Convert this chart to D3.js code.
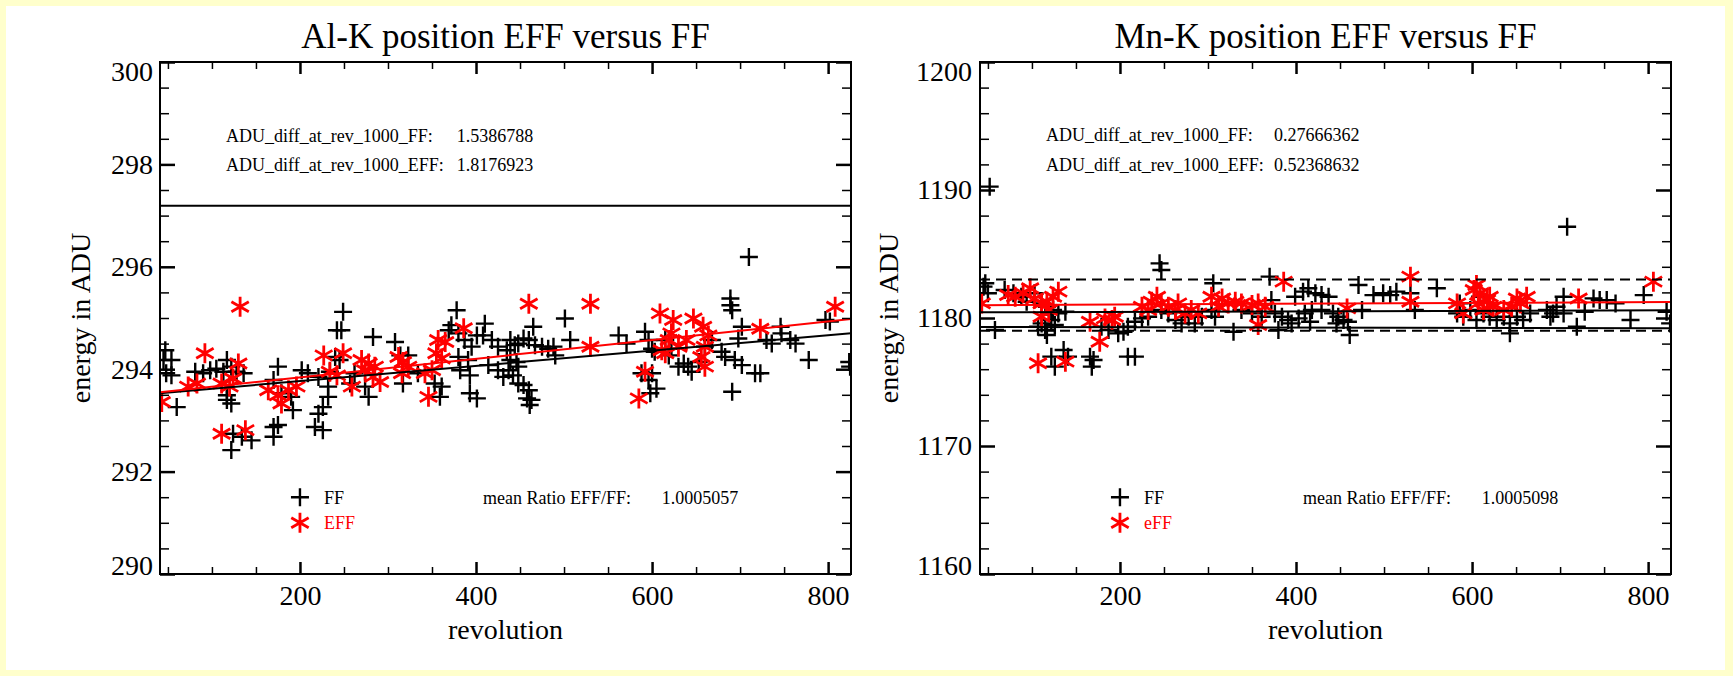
<!DOCTYPE html>
<html>
<head>
<meta charset="utf-8">
<script src="https://cdn.jsdelivr.net/npm/d3@7"></script>
<style>
  html, body { margin: 0; padding: 0; background: #ffffcc; }
  svg { display: block; }
  text { font-family: 'Liberation Serif', 'Times New Roman', serif; }
</style>
</head>
<body>
<svg id="chart" width="1733" height="676" font-family="'Liberation Serif', 'Times New Roman', serif"></svg>
<script>
// ---- data (revolution, energy in ADU) ----
const revDomain = [41, 826]
const revTicks = [200, 400, 600, 800]

const alYTicks = [290, 292, 294, 296, 298, 300]
const mnYTicks = [1160, 1170, 1180, 1190, 1200]

const alFF = [
  [45,294.18],[54,294.18],[48,293.92],[54,293.88],[47,294.37],[60,293.26],[81,293.95],[90,293.92],[98,293.98],[105,294.01],
  [113,293.95],[122,294.05],[128,293.95],[136,293.92],[117,294.18],[117,293.49],[117,293.40],[122,293.33],[124,292.74],[122,292.42],
  [134,292.68],[145,292.61],[170,292.87],[170,292.68],[175,292.91],[217,292.87],[226,292.81],[175,294.05],[170,293.79],[179,293.53],
  [190,293.46],[192,293.20],[202,293.98],[209,293.92],[221,293.85],[232,293.66],[232,293.46],[226,293.26],[221,293.13],[249,295.12],
  [242,294.76],[247,294.76],[283,294.63],[240,294.24],[245,294.18],[234,293.95],[262,293.92],[274,293.66],[278,293.46],[257,293.72],
  [308,294.53],[314,294.27],[323,294.27],[317,293.72],[334,293.92],[353,293.72],[361,293.66],[359,293.46],[378,295.15],[372,294.86],
  [369,294.76],[380,294.70],[387,294.57],[395,294.44],[401,294.66],[408,294.66],[410,294.89],[418,294.57],[425,294.44],[380,294.24],
  [391,294.18],[382,293.98],[393,293.88],[414,294.08],[425,293.98],[431,293.85],[393,293.53],[401,293.43],[435,294.37],
  [710,296.19],[501,294.99],[507,294.57],[465,294.83],[439,294.57],[444,294.47],[448,294.50],[454,294.60],[460,294.57],[467,294.47],
  [475,294.44],[488,294.44],[490,294.27],[482,294.40],[439,294.18],[446,294.14],[448,294.05],[437,293.98],[442,293.88],[448,293.72],
  [454,293.69],[460,293.59],[458,293.43],[463,293.40],[461,293.30],[689,295.38],[689,295.25],[691,295.15],[562,294.66],[571,294.50],
  [592,294.73],[596,294.57],[600,294.40],[603,294.34],[615,294.57],[622,294.40],[619,294.27],[588,293.92],[600,293.92],[596,293.79],
  [605,293.62],[598,293.53],[630,294.05],[636,294.11],[641,294.05],[645,293.95],[653,294.14],[660,294.44],[668,294.57],[679,294.34],
  [683,294.24],[698,294.60],[702,294.83],[694,294.18],[702,294.08],[717,293.92],[723,293.92],[691,293.56],[730,294.57],[736,294.50],
  [746,294.83],[747,294.70],[757,294.57],[763,294.50],[778,294.18],[797,294.96],[802,294.93],[824,294.14],[825,294.05]
]
const alEFF = [
  [43,293.36],[73,293.66],[83,293.72],[92,294.31],[132,295.22],[130,294.11],[111,293.72],[120,293.66],[124,293.82],[111,292.74],
  [138,292.81],[164,293.59],[175,293.49],[179,293.33],[187,293.59],[196,293.66],[227,294.27],[249,294.31],[234,293.95],[242,293.88],
  [259,293.66],[270,294.18],[278,294.11],[274,293.98],[283,293.85],[291,293.75],[285,294.05],[312,294.24],[317,294.14],[323,294.05],
  [316,293.92],[342,293.92],[350,293.98],[346,293.46],[357,294.57],[365,294.53],[355,294.31],[361,294.21],[386,294.80],
  [460,295.28],[530,295.28],[530,294.44],[609,295.09],[624,294.96],[647,294.99],[658,294.83],[664,294.66],[619,294.57],[630,294.44],
  [615,294.31],[660,294.44],[656,294.24],[660,294.05],[592,293.95],[585,293.43],[723,294.79],[808,295.22],[622,294.70],[611,294.37],
  [639,294.57]
]
const alFitFF = [293.53, 294.70]
const alFitEFF = [293.55, 294.98]
const alRefLine = [297.19]

const mnFF = [
  [52,1190.26],[45,1182.45],[50,1181.93],[47,1182.71],[58,1179.06],[69,1182.19],[79,1181.93],[88,1181.66],[94,1181.27],[103,1181.93],
  [111,1181.14],[117,1180.88],[124,1180.62],[130,1180.36],[138,1180.49],[107,1179.32],[115,1179.06],[111,1179.58],[122,1179.84],[126,1179.45],
  [117,1178.67],[122,1176.98],[126,1176.20],[136,1177.50],[141,1176.98],[166,1176.98],[170,1176.72],[168,1176.20],[209,1176.98],[217,1176.98],
  [179,1179.32],[187,1179.06],[198,1178.80],[204,1178.93],[209,1179.32],[217,1179.71],[225,1179.97],[232,1180.10],[245,1184.27],[247,1183.75],
  [247,1180.62],[255,1180.36],[263,1179.84],[270,1179.58],[278,1180.10],[285,1179.58],[293,1180.10],[306,1182.71],[308,1180.10],[304,1180.62],
  [329,1178.93],[338,1180.62],[350,1180.36],[361,1180.10],[370,1183.23],[372,1181.40],[376,1180.36],[384,1180.10],[391,1179.84],[395,1179.58],
  [403,1179.97],[410,1180.36],[418,1180.62],[399,1181.66],[408,1182.06],[414,1182.32],[422,1181.93],[429,1181.80],[437,1181.66],[429,1180.62],
  [380,1179.06],[416,1179.71],
  [708,1187.13],[471,1182.58],[488,1181.79],[499,1181.93],[507,1181.79],[514,1182.06],[442,1180.36],[448,1180.10],[454,1179.84],[459,1179.71],
  [446,1179.58],[461,1178.67],[475,1180.62],[560,1182.32],[530,1181.93],[535,1180.62],[583,1180.36],[590,1180.10],[598,1180.62],[605,1179.84],
  [613,1180.36],[620,1180.10],[628,1179.84],[636,1180.10],[643,1179.58],[651,1180.10],[658,1179.84],[666,1180.36],[643,1178.80],[685,1180.62],
  [692,1180.36],[696,1180.88],[704,1180.36],[689,1180.10],[704,1181.66],[719,1179.32],[728,1180.49],[738,1181.53],[745,1181.40],[753,1181.40],
  [763,1181.14],[780,1179.84],[795,1181.79],[821,1180.49],[825,1179.58],[586,1181.14],[609,1181.66]
]
const mnEFF = [
  [43,1181.14],[73,1181.79],[81,1181.66],[90,1181.93],[98,1182.32],[103,1181.53],[111,1181.14],[117,1181.27],[124,1181.66],[130,1182.06],
  [119,1180.62],[111,1180.10],[166,1179.71],[183,1179.97],[191,1179.84],[194,1180.10],[177,1178.15],[107,1176.46],[138,1176.59],[225,1180.88],
  [236,1181.27],[242,1181.66],[232,1180.62],[247,1181.14],[263,1180.62],[274,1180.36],[281,1180.62],[289,1180.36],[304,1181.66],[316,1181.53],
  [323,1181.14],[312,1180.88],[338,1181.14],[350,1181.01],[357,1181.14],[365,1180.88],[357,1179.45],[386,1182.84],[255,1180.88],[266,1181.14],
  [331,1181.27],
  [458,1180.75],[530,1183.23],[530,1181.27],[583,1181.14],[590,1180.36],[602,1182.19],[609,1181.93],[617,1181.40],[624,1180.88],[607,1181.14],
  [613,1180.62],[620,1181.66],[645,1180.88],[651,1181.53],[662,1181.66],[655,1181.14],[721,1181.53],[806,1182.84],[605,1182.58],[636,1180.62]
]
const mnFitFF = [1180.45, 1180.60]
const mnFitEFF = [1181.00, 1181.25]
const mnRefLine = [1179.30, 1179.20]
const mnBand = [1183.0, 1179.0]

const noteLabels = ['ADU_diff_at_rev_1000_FF:', 'ADU_diff_at_rev_1000_EFF:']
const alNoteValues = ['1.5386788', '1.8176923']
const mnNoteValues = ['0.27666362', '0.52368632']
const alRatio = '1.0005057'
const mnRatio = '1.0005098'

window.onload = function () {
  const svg = d3.select('#chart')
  const serif = "'Liberation Serif', 'Times New Roman', serif"

  // 白色底板
  svg.append('rect')
    .attr('x', 6).attr('y', 6).attr('width', 1719).attr('height', 664)
    .attr('fill', '#ffffff')

  // 加号
  let plusPath = function (x, y, s) {
    return `M${x - s},${y}H${x + s}M${x},${y - s}V${y + s}`
  }
  // 星号
  let starPath = function (x, y, s) {
    let a = s * 0.87, b = s * 0.5
    return `M${x},${y - s}V${y + s}M${x - a},${y - b}L${x + a},${y + b}M${x - a},${y + b}L${x + a},${y - b}`
  }

  let drawPanel = function (p) {
    let w = p.right - p.left
    let h = p.bottom - p.top
    let g = svg.append('g').attr('transform', `translate(${p.left},${p.top})`)

    let x = d3.scaleLinear().domain(revDomain).range([0, w])
    let y = d3.scaleLinear().domain(p.yDomain).range([h, 0])

    let clipId = 'clip-' + p.id
    g.append('clipPath').attr('id', clipId)
      .append('rect').attr('width', w).attr('height', h)

    let plot = g.append('g').attr('clip-path', `url(#${clipId})`)

    // 数据点
    plot.append('g').selectAll('path').data(p.ff).join('path')
      .attr('d', d => plusPath(x(d[0]), y(d[1]), 9))
      .attr('stroke', '#000').attr('stroke-width', 2.4).attr('fill', 'none')

    plot.append('g').selectAll('path').data(p.eff).join('path')
      .attr('d', d => starPath(x(d[0]), y(d[1]), 10))
      .attr('stroke', '#ff0000').attr('stroke-width', 2.8).attr('fill', 'none')

    // 拟合线和参考线
    p.lines.forEach(l => {
      plot.append('line')
        .attr('x1', x(revDomain[0])).attr('x2', x(revDomain[1]))
        .attr('y1', y(l.v[0])).attr('y2', y(l.v[l.v.length - 1]))
        .attr('stroke', l.color).attr('stroke-width', 2)
        .attr('stroke-dasharray', l.dash || null)
    })

    // 刻度
    let tickAxis = function (axis, transform, values, size, sw) {
      let a = g.append('g').attr('transform', transform)
        .call(axis.tickValues(values).tickSize(size).tickSizeOuter(0).tickFormat(''))
      a.select('.domain').remove()
      a.selectAll('line').attr('stroke', '#000').attr('stroke-width', sw)
    }
    tickAxis(d3.axisBottom(x), `translate(0,${h})`, p.xMinor, -7, 1.5)
    tickAxis(d3.axisTop(x), 'translate(0,0)', p.xMinor, -7, 1.5)
    tickAxis(d3.axisBottom(x), `translate(0,${h})`, revTicks, -12, 2.5)
    tickAxis(d3.axisTop(x), 'translate(0,0)', revTicks, -12, 2.5)
    tickAxis(d3.axisLeft(y), 'translate(0,0)', p.yMinor, -9, 1.5)
    tickAxis(d3.axisRight(y), `translate(${w},0)`, p.yMinor, -9, 1.5)
    tickAxis(d3.axisLeft(y), 'translate(0,0)', p.yTicks, -15, 2.5)
    tickAxis(d3.axisRight(y), `translate(${w},0)`, p.yTicks, -15, 2.5)

    // 刻度文字
    let xl = g.append('g').attr('transform', `translate(0,${h})`)
      .call(d3.axisBottom(x).tickValues(revTicks).tickSize(0).tickPadding(11).tickFormat(d3.format('d')))
    xl.select('.domain').remove()
    xl.attr('font-family', serif).attr('font-size', 28)
    xl.selectAll('text').attr('fill', '#000')

    let yMin = p.yDomain[0], yMax = p.yDomain[1]
    let yl = g.append('g')
      .call(d3.axisLeft(y).tickValues(p.yTicks).tickSize(0).tickPadding(p.yPad).tickFormat(d3.format('d')))
    yl.select('.domain').remove()
    yl.attr('font-family', serif).attr('font-size', 28)
    yl.selectAll('text').attr('fill', '#000')
      .attr('y', d => d === yMax ? 10 : d === yMin ? -8 : 0)

    // 边框
    g.append('rect').attr('width', w).attr('height', h)
      .attr('fill', 'none').attr('stroke', '#000').attr('stroke-width', 2)

    // 标题
    g.append('text').attr('x', w / 2).attr('y', -14)
      .attr('text-anchor', 'middle').attr('font-size', 35).attr('fill', '#000')
      .text(p.title)
    g.append('text').attr('x', w / 2).attr('y', h + 65)
      .attr('text-anchor', 'middle').attr('font-size', 28).attr('fill', '#000')
      .text('revolution')
    g.append('text')
      .attr('transform', `translate(${p.yTitleX},${h / 2}) rotate(-90)`)
      .attr('text-anchor', 'middle').attr('font-size', 28).attr('fill', '#000')
      .text('energy in ADU')

    // 注释
    noteLabels.forEach((t, i) => {
      g.append('text').attr('x', x(116)).attr('y', y(p.noteY[i])).attr('dy', '0.35em')
        .attr('font-size', 18).attr('fill', '#000').text(t)
      g.append('text').attr('x', x(p.noteValX)).attr('y', y(p.noteY[i])).attr('dy', '0.35em')
        .attr('font-size', 18).attr('fill', '#000').text(p.noteValues[i])
    })

    // 图例
    let lx = x(200)
    g.append('path').attr('d', plusPath(lx, y(p.legendY[0]), 9))
      .attr('stroke', '#000').attr('stroke-width', 2.4).attr('fill', 'none')
    g.append('path').attr('d', starPath(lx, y(p.legendY[1]), 10))
      .attr('stroke', '#ff0000').attr('stroke-width', 2.8).attr('fill', 'none')
    g.append('text').attr('x', lx + 24).attr('y', y(p.legendY[0])).attr('dy', '0.35em')
      .attr('font-size', 18).attr('fill', '#000').text('FF')
    g.append('text').attr('x', lx + 24).attr('y', y(p.legendY[1])).attr('dy', '0.35em')
      .attr('font-size', 18).attr('fill', '#ff0000').text(p.effName)
    g.append('text').attr('x', x(408)).attr('y', y(p.legendY[0])).attr('dy', '0.35em')
      .attr('font-size', 18).attr('fill', '#000').text('mean Ratio EFF/FF:')
    g.append('text').attr('x', x(611)).attr('y', y(p.legendY[0])).attr('dy', '0.35em')
      .attr('font-size', 18).attr('fill', '#000').text(p.ratio)
  }

  let revMinor = d3.range(50, 826, 50).filter(v => revTicks.indexOf(v) < 0)

  drawPanel({
    id: 'al', left: 160, right: 851, top: 62, bottom: 574,
    title: 'Al-K position EFF versus FF',
    yDomain: [290, 300], yTicks: alYTicks,
    yMinor: d3.range(290, 300.01, 0.5).filter(v => alYTicks.indexOf(v) < 0),
    xMinor: revMinor, yPad: 7, yTitleX: -70,
    ff: alFF, eff: alEFF,
    lines: [
      { v: alRefLine, color: '#000' },
      { v: alFitFF, color: '#000' },
      { v: alFitEFF, color: '#ff0000' }
    ],
    noteY: [298.57, 298.0], noteValX: 378, noteValues: alNoteValues,
    legendY: [291.5, 291.0], effName: 'EFF', ratio: alRatio
  })

  drawPanel({
    id: 'mn', left: 980, right: 1671, top: 62, bottom: 574,
    title: 'Mn-K position EFF versus FF',
    yDomain: [1160, 1200], yTicks: mnYTicks,
    yMinor: d3.range(1160, 1200.01, 2).filter(v => mnYTicks.indexOf(v) < 0),
    xMinor: revMinor, yPad: 8, yTitleX: -82,
    ff: mnFF, eff: mnEFF,
    lines: [
      { v: [mnBand[0]], color: '#000', dash: '10,6' },
      { v: [mnBand[1]], color: '#000', dash: '10,6' },
      { v: mnRefLine, color: '#000' },
      { v: mnFitFF, color: '#000' },
      { v: mnFitEFF, color: '#ff0000' }
    ],
    noteY: [1194.3, 1192.0], noteValX: 375, noteValues: mnNoteValues,
    legendY: [1166, 1164], effName: 'eFF', ratio: mnRatio
  })
}
</script>
</body>
</html>
